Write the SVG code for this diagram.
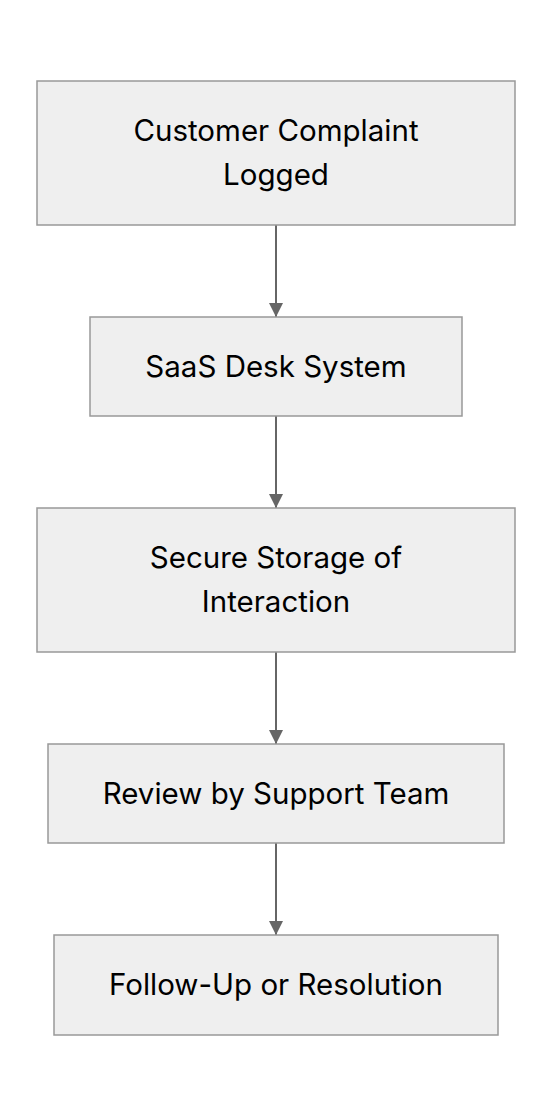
<svg xmlns="http://www.w3.org/2000/svg" width="552" height="1116" viewBox="0 0 552 1116">
<style>
.node rect{fill:#efefef;stroke:#999999;stroke-width:1.5}
.node text{font-family:Inter,"Liberation Sans",sans-serif;font-size:29.5px;fill:#000000;text-anchor:middle}
.edge{stroke:#666666;stroke-width:2;fill:none}
</style>
<defs>
<marker id="arr" viewBox="0 0 10 10" refX="10" refY="5" markerWidth="7" markerHeight="7" markerUnits="strokeWidth" orient="auto">
<path d="M0,0 L10,5 L0,10 z" fill="#666666"/>
</marker>
</defs>
<rect width="552" height="1116" fill="#ffffff"/>
<g id="connectors">
<path class="edge" d="M276,225 V317" marker-end="url(#arr)"/>
<path class="edge" d="M276,416 V508" marker-end="url(#arr)"/>
<path class="edge" d="M276,652 V744" marker-end="url(#arr)"/>
<path class="edge" d="M276,843 V935" marker-end="url(#arr)"/>
</g>
<g id="node1" class="node">
<rect x="37" y="81" width="478" height="144"/>
<text x="276" y="141">Customer Complaint</text>
<text x="276" y="185">Logged</text>
</g>
<g id="node2" class="node">
<rect x="90" y="317" width="372" height="99"/>
<text x="276" y="377">SaaS Desk System</text>
</g>
<g id="node3" class="node">
<rect x="37" y="508" width="478" height="144"/>
<text x="276" y="568">Secure Storage of</text>
<text x="276" y="612">Interaction</text>
</g>
<g id="node4" class="node">
<rect x="48" y="744" width="456" height="99"/>
<text x="276" y="804">Review by Support Team</text>
</g>
<g id="node5" class="node">
<rect x="54" y="935" width="444" height="100"/>
<text x="276" y="995">Follow-Up or Resolution</text>
</g>
</svg>
